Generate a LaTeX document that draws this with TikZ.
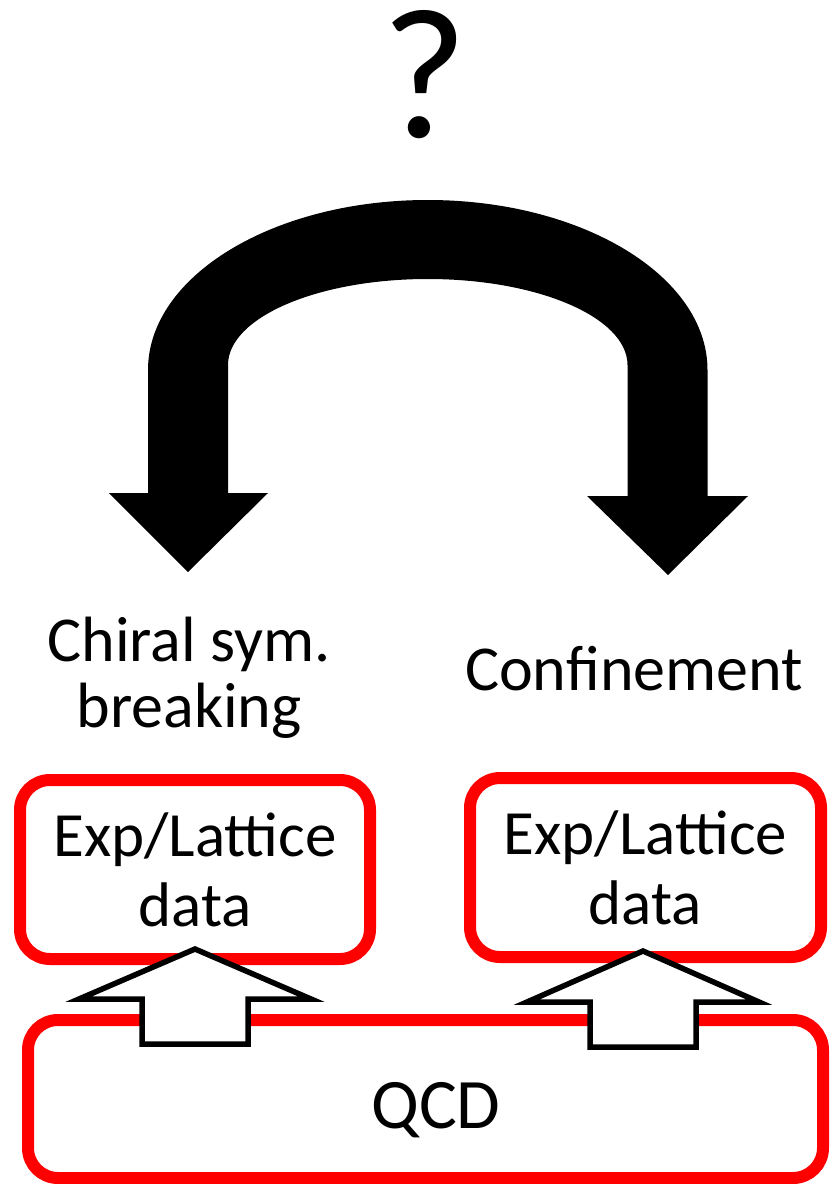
\documentclass[tikz,border=0pt]{standalone}
\usepackage{fontspec}
\setmainfont{Carlito}
\usetikzlibrary{calc}

\begin{document}
\begin{tikzpicture}[x=1pt,y=-1pt,
  redbox/.style={draw=red, line width=12pt, rounded corners=30pt, fill=white, inner sep=0pt},
  lbl/.style={inner sep=0pt, align=center},
  hollowarrow/.style={draw=black, line width=5.5pt, fill=white, line join=miter},
  bigarrow/.style={fill=black}]

% canvas
\fill[white] (0,0) rectangle (834,1184);
\useasboundingbox (0,0) rectangle (834,1184);

% question mark on top
\node[lbl, font=\fontsize{186}{186}\selectfont, anchor=base] (qmark) at (425,137) {?};

% curved double arrow
\fill[bigarrow]
  (109,493) -- (148,493) -- (148,370)
  arc[start angle=180, end angle=360, x radius=279.75, y radius=170]
  -- (707.5,496) -- (748,496) -- (668,575) -- (587,496) -- (627.5,496) -- (627.5,365)
  arc[start angle=360, end angle=180, x radius=199.75, y radius=86]
  -- (228,493) -- (268,493) -- (188,572) -- cycle;

% the two phenomena
\node[lbl, font=\fontsize{64}{66}\selectfont] (chiral) at (189,678) {Chiral sym.\\breaking};
\node[lbl, font=\fontsize{64}{66}\selectfont, anchor=base] (confine) at (634,690) {Confinement};

% data boxes
\node[redbox, lbl, font=\fontsize{63}{70}\selectfont, minimum width=350pt, minimum height=179pt]
  (dataL) at (195,869.5) {Exp/Lattice\\data};
\node[redbox, lbl, font=\fontsize{63}{70}\selectfont, minimum width=351pt, minimum height=179pt]
  (dataR) at (645.5,867.5) {Exp/Lattice\\data};

% QCD box
\node[redbox, minimum width=795pt, minimum height=158pt] (qcdbox) at (425.5,1099) {};
\node[lbl, font=\fontsize{71}{71}\selectfont, anchor=base] (qcd) at (436,1128) {QCD};

% hollow arrows from QCD up to the data boxes
\draw[hollowarrow] ($(dataL.south)+(0,-16)$) coordinate (tipL)
  -- ++(116,50) -- ++(-63,0) -- ++(0,45) -- ++(-106,0) -- ++(0,-45) -- ++(-63,0) -- cycle;
\draw[hollowarrow] ($(dataR.south)+(-2.5,-12)$) coordinate (tipR)
  -- ++(116,51) -- ++(-63,0) -- ++(0,45) -- ++(-106,0) -- ++(0,-45) -- ++(-63,0) -- cycle;

\end{tikzpicture}
\end{document}
